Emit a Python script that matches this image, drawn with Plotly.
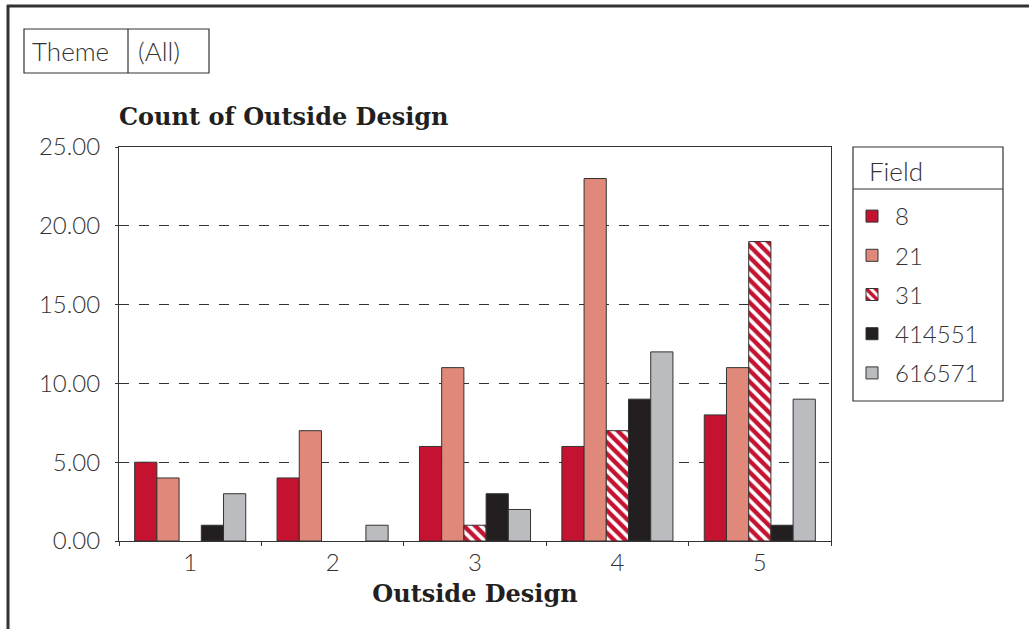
import plotly.graph_objects as go

# Pivot data: count of Outside Design by Field
categories = ["1", "2", "3", "4", "5"]
fields = ["8", "21", "31", "414551", "616571"]
counts_8 = [5, 4, 6, 6, 8]
counts_21 = [4, 7, 11, 23, 11]
counts_31 = [None, None, 1, 7, 19]
counts_414551 = [1, None, 3, 9, 1]
counts_616571 = [3, 1, 2, 12, 9]
y_ticks = [0, 5, 10, 15, 20, 25]

series = [counts_8, counts_21, counts_31, counts_414551, counts_616571]
fills = ["#c41230", "#e0897b", "#c41230", "#231f20", "#bbbcc0"]

W, H = 1029, 629
L, R, T, B = 119, 831, 147, 541  # plot area in pixels


def px(x):
    return (x - L) / (R - L)


def py(y):
    return (B - y) / (B - T)


LIGHT = dict(family="Lato", size=24, color="#333333", weight=300)
LABEL = dict(family="Lato", size=26, color="#333333", weight=300)
BOLD = dict(family="DejaVu Serif", size=24, color="#231f20", weight="bold")

fig = go.Figure()
for name, vals, col in zip(fields, series, fills):
    marker = dict(color=col, line=dict(color="#333333", width=1))
    if name == "31":
        marker = dict(
            color="white",
            line=dict(color="#333333", width=1),
            pattern=dict(shape="\\", fgcolor="#c41230", bgcolor="white",
                         size=8, solidity=0.55, fillmode="replace"),
        )
    fig.add_trace(go.Bar(x=categories, y=vals, name=name, marker=marker,
                         legendgroup=name))

shapes = [
    # outer frame
    dict(type="line", xref="paper", yref="paper", x0=px(8), x1=px(8), y0=py(5), y1=py(640),
         line=dict(color="#333333", width=3)),
    dict(type="line", xref="paper", yref="paper", x0=px(7), x1=px(1040), y0=py(6), y1=py(6),
         line=dict(color="#333333", width=3)),
    # page-field box
    dict(type="rect", xref="paper", yref="paper", x0=px(24), x1=px(209), y0=py(29), y1=py(73),
         line=dict(color="#333333", width=1.2)),
    dict(type="line", xref="paper", yref="paper", x0=px(128), x1=px(128), y0=py(29), y1=py(73),
         line=dict(color="#333333", width=1.2)),
    # legend box and header separator
    dict(type="rect", xref="paper", yref="paper", x0=px(853), x1=px(1003), y0=py(147), y1=py(401),
         line=dict(color="#333333", width=1.2)),
    dict(type="line", xref="paper", yref="paper", x0=px(853), x1=px(1003), y0=py(189), y1=py(189),
         line=dict(color="#333333", width=1.2)),
]

annotations = [
    dict(text="Theme", xref="paper", yref="paper", x=px(30), y=py(51), xanchor="left",
         yanchor="middle", showarrow=False, font=LABEL),
    dict(text="(All)", xref="paper", yref="paper", x=px(136), y=py(51), xanchor="left",
         yanchor="middle", showarrow=False, font=LABEL),
    dict(text="Count of Outside Design", xref="paper", yref="paper", x=px(117), y=py(116),
         xanchor="left", yanchor="middle", showarrow=False, font=BOLD),
    dict(text="Field", xref="paper", yref="paper", x=px(867), y=py(171), xanchor="left",
         yanchor="middle", showarrow=False, font=LABEL),
]

fig.update_layout(
    width=W, height=H,
    margin=dict(l=L, r=W - R, t=T, b=H - B),
    paper_bgcolor="white", plot_bgcolor="white",
    barmode="group", bargap=0.22, bargroupgap=0,
    shapes=shapes, annotations=annotations,
    showlegend=True,
    legend=dict(x=px(849), y=py(194), xanchor="left", yanchor="top",
                font=LIGHT, bgcolor="rgba(0,0,0,0)", borderwidth=0,
                traceorder="grouped", tracegroupgap=5, itemwidth=36),
    xaxis=dict(
        type="category", showline=True, linecolor="#333333", linewidth=1, mirror=True,
        ticks="outside", tickson="boundaries", ticklen=4, tickcolor="#333333",
        tickfont=LIGHT, showgrid=False,
        title=dict(text="Outside Design", font=BOLD, standoff=10),
    ),
    yaxis=dict(
        range=[0, 25], tickvals=y_ticks, tickformat=".2f",
        showline=True, linecolor="#333333", linewidth=1, mirror=True,
        ticks="outside", ticklen=3, tickcolor="#333333",
        tickfont=LIGHT, ticklabelstandoff=10,
        showgrid=True, gridcolor="#333333", gridwidth=1, griddash="10px,10px",
        zeroline=False,
    ),
)

fig.write_html("out.html")
